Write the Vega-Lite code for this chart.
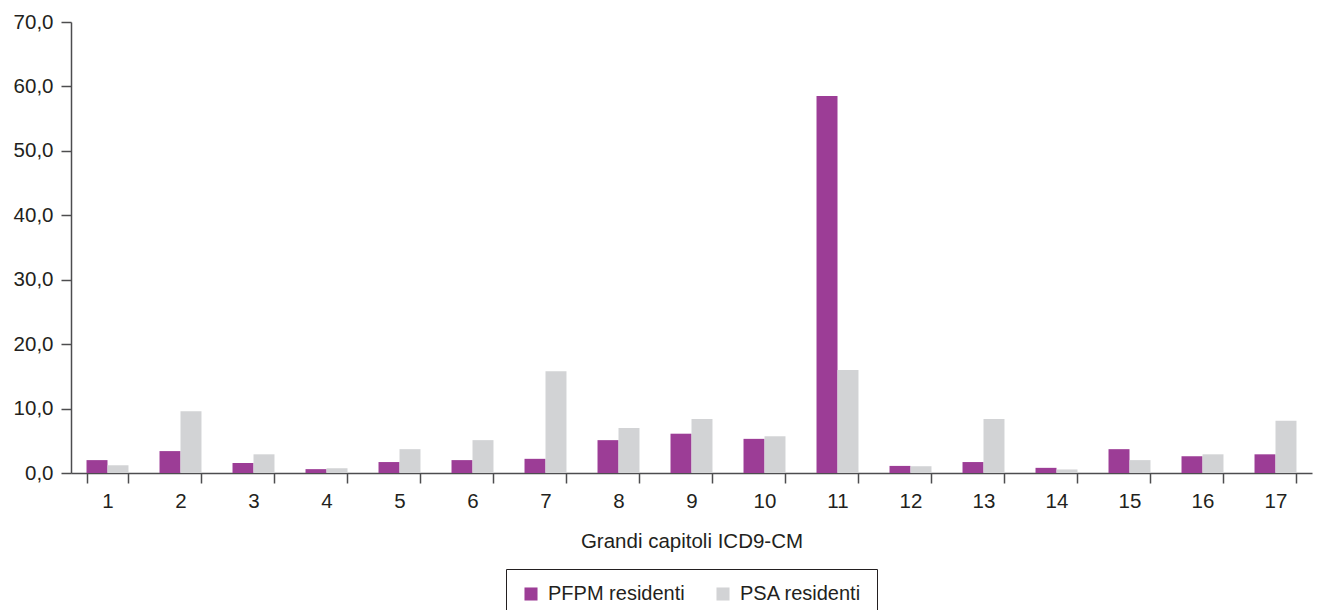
{
  "$schema": "https://vega.github.io/schema/vega-lite/v6.json",
  "width": 1241,
  "height": 451,
  "autosize": {"type": "none"},
  "padding": {"left": 71, "top": 22, "right": 6, "bottom": 137},
  "background": "white",
  "config": {
    "view": {"stroke": null},
    "font": "Liberation Sans",
    "axis": {"labelFont": "Liberation Sans", "titleFont": "Liberation Sans", "labelColor": "#231f20", "titleColor": "#231f20", "labelFontSize": 20.5, "titleFontSize": 20.5, "titleFontWeight": "normal", "grid": false, "domainColor": "#4d4d4f", "tickColor": "#4d4d4f", "domainWidth": 1.5, "tickWidth": 1.5}
  },
  "data": {
    "values": [
      {"cap": 1, "serie": "PFPM residenti", "v": 2.0}, {"cap": 1, "serie": "PSA residenti", "v": 1.2},
      {"cap": 2, "serie": "PFPM residenti", "v": 3.4}, {"cap": 2, "serie": "PSA residenti", "v": 9.6},
      {"cap": 3, "serie": "PFPM residenti", "v": 1.55}, {"cap": 3, "serie": "PSA residenti", "v": 2.9},
      {"cap": 4, "serie": "PFPM residenti", "v": 0.6}, {"cap": 4, "serie": "PSA residenti", "v": 0.75},
      {"cap": 5, "serie": "PFPM residenti", "v": 1.7}, {"cap": 5, "serie": "PSA residenti", "v": 3.7},
      {"cap": 6, "serie": "PFPM residenti", "v": 2.0}, {"cap": 6, "serie": "PSA residenti", "v": 5.1},
      {"cap": 7, "serie": "PFPM residenti", "v": 2.2}, {"cap": 7, "serie": "PSA residenti", "v": 15.8},
      {"cap": 8, "serie": "PFPM residenti", "v": 5.1}, {"cap": 8, "serie": "PSA residenti", "v": 7.0},
      {"cap": 9, "serie": "PFPM residenti", "v": 6.1}, {"cap": 9, "serie": "PSA residenti", "v": 8.4},
      {"cap": 10, "serie": "PFPM residenti", "v": 5.3}, {"cap": 10, "serie": "PSA residenti", "v": 5.7},
      {"cap": 11, "serie": "PFPM residenti", "v": 58.5}, {"cap": 11, "serie": "PSA residenti", "v": 16.0},
      {"cap": 12, "serie": "PFPM residenti", "v": 1.1}, {"cap": 12, "serie": "PSA residenti", "v": 1.05},
      {"cap": 13, "serie": "PFPM residenti", "v": 1.7}, {"cap": 13, "serie": "PSA residenti", "v": 8.4},
      {"cap": 14, "serie": "PFPM residenti", "v": 0.8}, {"cap": 14, "serie": "PSA residenti", "v": 0.55},
      {"cap": 15, "serie": "PFPM residenti", "v": 3.7}, {"cap": 15, "serie": "PSA residenti", "v": 2.0},
      {"cap": 16, "serie": "PFPM residenti", "v": 2.6}, {"cap": 16, "serie": "PSA residenti", "v": 2.9},
      {"cap": 17, "serie": "PFPM residenti", "v": 2.9}, {"cap": 17, "serie": "PSA residenti", "v": 8.1}
    ]
  },
  "mark": {"type": "bar"},
  "encoding": {
    "x": {
      "field": "cap", "type": "ordinal",
      "scale": {"paddingInner": 0.425, "paddingOuter": 0.2125},
      "axis": {"title": "Grandi capitoli ICD9-CM", "labelAngle": 0, "tickBand": "extent", "tickSize": 10, "labelPadding": 8, "titlePadding": 20}
    },
    "xOffset": {"field": "serie", "type": "nominal"},
    "y": {
      "field": "v", "type": "quantitative",
      "scale": {"domain": [0, 70], "nice": false},
      "axis": {"title": null, "values": [0, 10, 20, 30, 40, 50, 60, 70], "tickSize": 10, "labelPadding": 8, "labelExpr": "replace(format(datum.value, '.1f'), '.', ',')"}
    },
    "color": {
      "field": "serie", "type": "nominal",
      "scale": {"domain": ["PFPM residenti", "PSA residenti"], "range": ["#9c3d96", "#d2d3d5"]},
      "legend": {
        "title": null, "orient": "none", "legendX": 435, "legendY": 547, "direction": "horizontal",
        "symbolType": "square", "symbolSize": 170, "symbolStrokeWidth": 0,
        "labelFont": "Liberation Sans", "labelFontSize": 20, "labelColor": "#231f20",
        "strokeColor": "#231f20", "padding": 15, "columnPadding": 28, "labelOffset": 7
      }
    }
  }
}
